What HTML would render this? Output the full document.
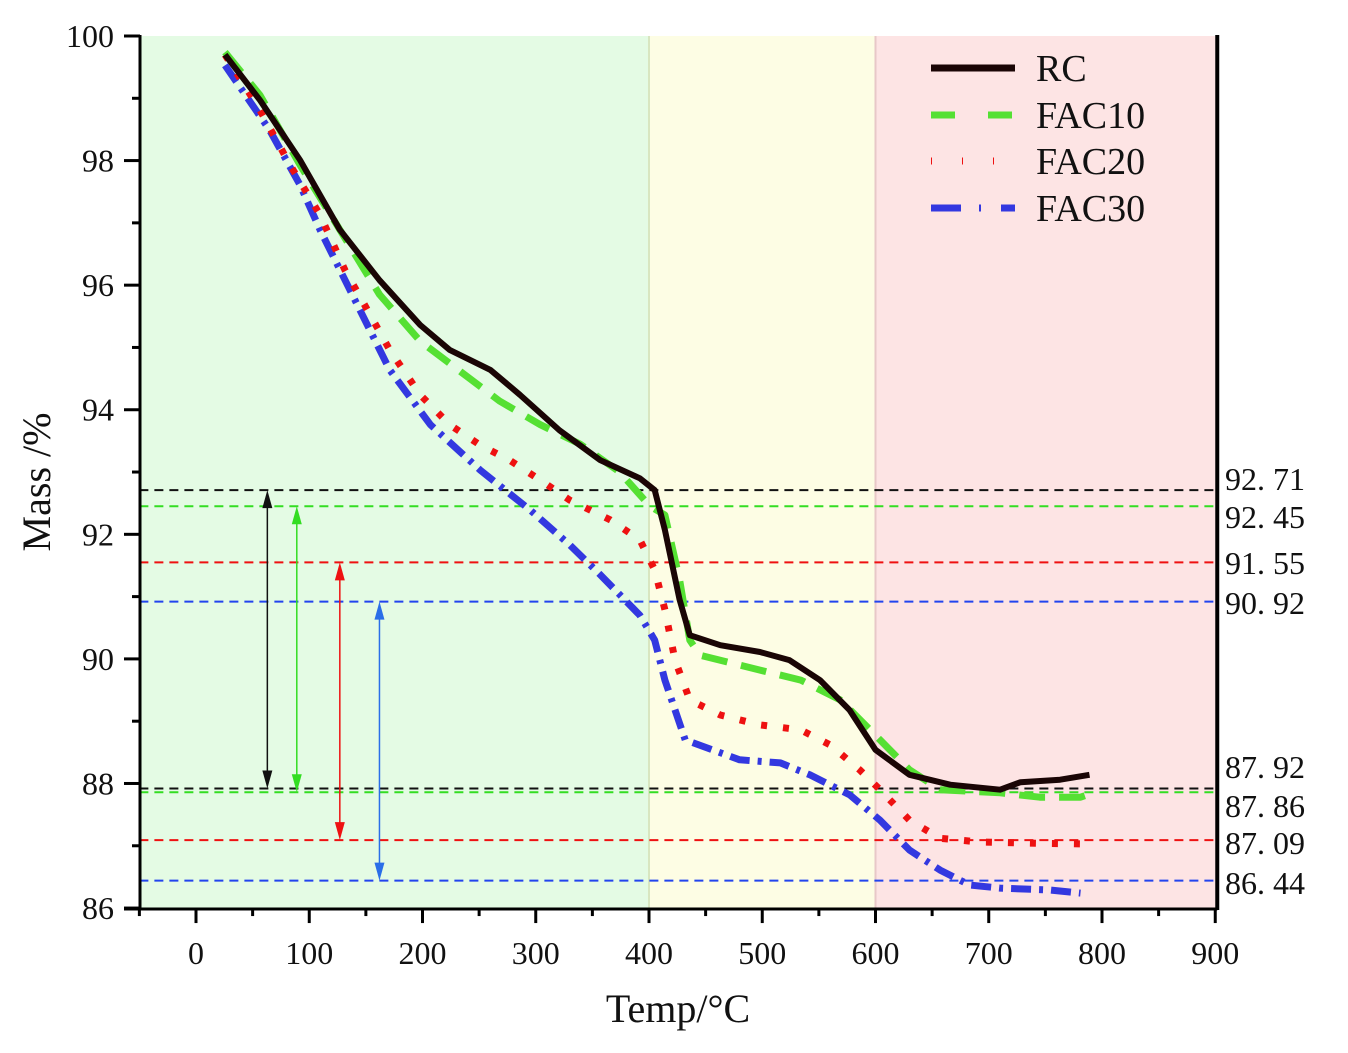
<!DOCTYPE html>
<html><head><meta charset="utf-8"><style>
html,body{margin:0;padding:0;background:#fff;}
svg{display:block;font-family:"Liberation Serif","Noto Serif CJK SC",serif;}
</style></head><body>
<svg id="chart" width="1348" height="1053" viewBox="0 0 1348 1053" xmlns="http://www.w3.org/2000/svg"></svg>
<script>
const rcT=[25.6,56.5,91.8,127,162,198,224,260,286,321,357,392,405,414,427,436,463,498,524,551,577,600,630,666,710,728,763,789];
const rcM=[99.70,98.97,98.01,96.89,96.08,95.36,94.96,94.64,94.24,93.67,93.19,92.90,92.71,92.07,90.95,90.38,90.22,90.11,89.98,89.66,89.18,88.54,88.14,87.98,87.90,88.02,88.06,88.14];
const f10T=[25.6,56.5,91.8,127,162,198,233,268,304,339,374,401,414,427,436,445,498,534,569,604,630,657,710,745,781,794];
const f10M=[99.74,99.05,97.93,96.89,95.85,95.10,94.62,94.14,93.76,93.45,93.00,92.45,92.31,91.27,90.30,90.06,89.82,89.66,89.34,88.70,88.22,87.90,87.85,87.78,87.78,87.86];
const f20T=[25.6,56.5,83,109.5,131.6,149,171,198,224,251,277,304,330,366,392,405,414,423,436,463,498,534,560,586,604,630,657,692,745,781];
const f20M=[99.70,98.81,97.93,97.13,96.24,95.68,94.96,94.24,93.76,93.43,93.19,92.87,92.55,92.23,91.91,91.43,90.79,89.98,89.34,89.10,88.94,88.86,88.62,88.22,87.90,87.41,87.12,87.06,87.04,87.03];
const f30T=[25.6,65,91.8,109.5,136,171,207,251,295,330,357,392,405,414,432,480,516,542,577,604,630,657,683,710,754,781];
const f30M=[99.53,98.49,97.61,96.89,95.92,94.64,93.76,93.03,92.39,91.83,91.35,90.70,90.30,89.66,88.70,88.38,88.33,88.14,87.82,87.41,86.93,86.61,86.37,86.32,86.29,86.24];
const refVals=[92.71,92.45,91.55,90.92,87.92,87.86,87.09,86.44];
const refLabels=["92. 71","92. 45","91. 55","90. 92","87. 92","87. 86","87. 09","86. 44"];
const arrowT=[63,89,127,162];
const arrowTop=[92.71,92.45,91.55,90.92];
const arrowBot=[87.92,87.86,87.09,86.44];
const xTicks=[0,100,200,300,400,500,600,700,800,900];
const yTicks=[86,88,90,92,94,96,98,100];

const NS="http://www.w3.org/2000/svg";
const svg=document.getElementById('chart');
const X=t=>196+(t)*1.1325;
const Y=m=>36+(100-m)*62.29;
function el(tag,attrs,parent){const e=document.createElementNS(NS,tag);for(const k in attrs)e.setAttribute(k,attrs[k]);(parent||svg).appendChild(e);return e;}

let r;
r=el('rect',{x:X(-50),y:Y(100),width:X(400)-X(-50),height:Y(86)-Y(100),fill:'#e4fbe4'});

r=el('rect',{x:X(400),y:Y(100),width:X(600)-X(400),height:Y(86)-Y(100),fill:'#fdfde4'});

r=el('rect',{x:X(600),y:Y(100),width:X(900)-X(600),height:Y(86)-Y(100),fill:'#fde4e4'});

el('line',{x1:X(400),y1:Y(100),x2:X(400),y2:Y(86),stroke:'#d8e6c0','stroke-width':2});
el('line',{x1:X(600),y1:Y(100),x2:X(600),y2:Y(86),stroke:'#e8c8c8','stroke-width':2});

const refColors=['#111','#33dd22','#ee1111','#2244ee','#111','#33dd22','#ee1111','#2244ee'];
const labelY=[479,517,563,603,767,806,843,883];
refVals.forEach((v,i)=>{
  const l=el('line',{x1:X(-50),y1:Y(v),x2:X(900),y2:Y(v),stroke:refColors[i],'stroke-width':2,'stroke-dasharray':'9 6'});
  
  
  const t=el('text',{x:1225,y:labelY[i]+11,'font-size':32,fill:'#111'});
  t.textContent=refLabels[i];
  
  
});

const arrowColors=['#111','#33dd22','#ee1111','#2a6ee8'];
arrowT.forEach((t,i)=>{
  const x=X(t),y1=Y(arrowTop[i]),y2=Y(arrowBot[i]);
  const g=el('g',{});
  
  
  el('line',{x1:x,y1:y1+12,x2:x,y2:y2-12,stroke:arrowColors[i],'stroke-width':1.5},g);
  el('polygon',{points:`${x},${y1} ${x-5},${y1+18} ${x+5},${y1+18}`,fill:arrowColors[i]},g);
  el('polygon',{points:`${x},${y2} ${x-5},${y2-18} ${x+5},${y2-18}`,fill:arrowColors[i]},g);
});

function series(T,M,attrs,name){
  const d=T.map((t,i)=>(i?'L':'M')+X(t).toFixed(1)+' '+Y(M[i]).toFixed(1)).join(' ');
  const p=el('path',Object.assign({d:d,fill:'none','stroke-linejoin':'round'},attrs));
  
  
}
series(f30T,f30M,{stroke:'#3338e0','stroke-width':7,'stroke-dasharray':'20 8 4 8'},'series-fac30');
series(f20T,f20M,{stroke:'#ee1111','stroke-width':7,'stroke-dasharray':'6 16'},'series-fac20');
series(f10T,f10M,{stroke:'#55e033','stroke-width':7,'stroke-dasharray':'26 14'},'series-fac10');
series(rcT,rcM,{stroke:'#1a0505','stroke-width':6},'series-rc');

el('line',{x1:140,y1:Y(100)-1,x2:140,y2:Y(86)+2,stroke:'#000','stroke-width':3});
el('line',{x1:124,y1:Y(86)+1,x2:X(900)+2,y2:Y(86)+1,stroke:'#000','stroke-width':3});
el('line',{x1:X(900)+2,y1:Y(100)-1,x2:X(900)+2,y2:Y(86)+2,stroke:'#000','stroke-width':4});
xTicks.forEach(v=>{
  el('line',{x1:X(v),y1:Y(86),x2:X(v),y2:Y(86)+15,stroke:'#000','stroke-width':3});
  const t=el('text',{x:X(v),y:Y(86)+56,'font-size':32,'text-anchor':'middle',fill:'#111'});
  t.textContent=v;
  
  
});
for(let v=-50;v<900;v+=100){el('line',{x1:X(v),y1:Y(86),x2:X(v),y2:Y(86)+8,stroke:'#000','stroke-width':3});}
yTicks.forEach(v=>{
  el('line',{x1:124,y1:Y(v),x2:140,y2:Y(v),stroke:'#000','stroke-width':3});
  const t=el('text',{x:114,y:Y(v)+11,'font-size':32,'text-anchor':'end',fill:'#111'});
  t.textContent=v;
  
  
});
for(let v=87;v<100;v+=2){el('line',{x1:132,y1:Y(v),x2:140,y2:Y(v),stroke:'#000','stroke-width':3});}

let tt=el('text',{x:678,y:1022,'font-size':40,'text-anchor':'middle',fill:'#111'});
tt.textContent='Temp/°C';

tt=el('text',{x:50,y:482,'font-size':40,'text-anchor':'middle',fill:'#111',transform:'rotate(-90 50 482)'});
tt.textContent='Mass /%';


const legNames=['RC','FAC10','FAC20','FAC30'];
const legY=[68,115,161,208];
const legStyles=[
  {stroke:'#1a0505','stroke-width':7},
  {stroke:'#55e033','stroke-width':7,'stroke-dasharray':'24 33'},
  {stroke:'#ee1111','stroke-width':7,'stroke-dasharray':'1 30'},
  {stroke:'#3338e0','stroke-width':7,'stroke-dasharray':'30 18 2 20'}];
legNames.forEach((n,i)=>{
  const g=el('g',{});
  
  
  el('line',Object.assign({x1:931,y1:legY[i],x2:1015,y2:legY[i]},legStyles[i]),g);
  const t=el('text',{x:1036,y:legY[i]+13,'font-size':38,fill:'#111'},g);
  t.textContent=n;
});
</script>
</body></html>
